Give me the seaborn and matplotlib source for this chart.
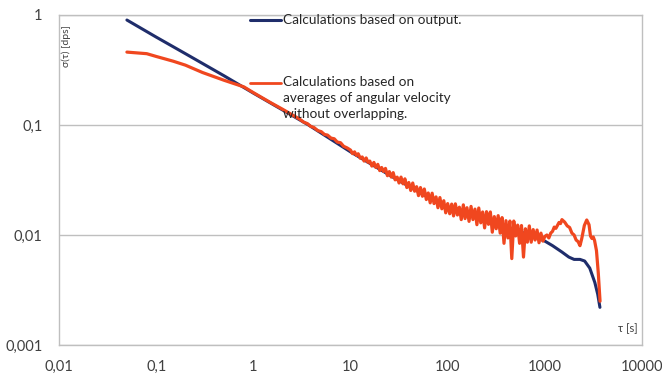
import numpy as np
import pandas as pd
import seaborn as sns
import matplotlib.pyplot as plt

# values (tau in s, sigma in dps)
blue_tau = [0.05, 0.1, 0.2, 0.5, 1, 2, 3.7, 10, 30, 100, 200, 400, 700, 1000,
            1200, 1500, 1766, 2000, 2300, 2570, 2900, 3270, 3500, 3690]
blue_sigma = [0.90, 0.63, 0.445, 0.28, 0.195, 0.137, 0.100, 0.057, 0.032, 0.0175,
              0.0145, 0.0118, 0.0100, 0.0088, 0.0080, 0.0070, 0.0063, 0.0060,
              0.0060, 0.0058, 0.0050, 0.0037, 0.0029, 0.0022]

red_tau = [0.05, 0.08, 0.1, 0.15, 0.2, 0.3, 0.5, 0.8, 1.0, 1.5, 2.0, 2.5,
           3.0, 3.3, 3.6, 3.9, 4.2, 4.6, 5.0, 5.4, 5.8, 6.3, 6.8, 7.3, 7.9, 8.5, 9.2,
           10, 10.5, 11, 11.5, 12, 12.6, 13.2, 13.8, 14.5, 15.1, 15.8, 16.6, 17.4,
           18.2, 19.1, 20, 20.9, 21.9, 22.9, 24, 25.1, 26.3, 27.5, 28.8, 30.2, 31.6,
           33.1, 34.7, 36.3, 38, 39.8, 41.7, 43.7, 45.7, 47.9, 50.1, 52.5, 55, 57.5,
           60.3, 63.1, 66.1, 69.2, 72.4, 75.9, 79.4, 83.2, 87.1, 91.2, 95.5,
           100, 105, 110, 115, 120, 126, 132, 138, 145, 151, 158, 166, 174, 182,
           191, 200, 209, 219, 229, 240, 251, 263, 275, 288, 302, 316, 331, 347,
           363, 380, 398, 417, 437, 457, 479, 501, 525, 550, 575, 603, 631, 661,
           692, 724, 759, 794, 832, 871, 912, 955, 1000,
           1050, 1100, 1150, 1200, 1250, 1300, 1400, 1450, 1500, 1600, 1700, 1800,
           1900, 2000, 2100, 2200, 2300, 2400, 2550, 2700, 2850, 2950, 3050, 3150,
           3250, 3400, 3550, 3650, 3700]
red_sigma = [0.46, 0.445, 0.42, 0.38, 0.35, 0.30, 0.255, 0.222, 0.197, 0.160, 0.139,
             0.124, 0.113, 0.106, 0.103, 0.097, 0.095, 0.089, 0.087, 0.082, 0.081,
             0.076, 0.075, 0.070, 0.069, 0.064, 0.062,
             0.0592, 0.0549, 0.0570, 0.0529, 0.0548, 0.0499, 0.0512, 0.0470, 0.0502,
             0.0458, 0.0470, 0.0423, 0.0457, 0.0411, 0.0439, 0.0385, 0.0411, 0.0378,
             0.0403, 0.0346, 0.0377, 0.0336, 0.0369, 0.0317, 0.0336, 0.0297, 0.0336,
             0.0292, 0.0324, 0.0270, 0.0300, 0.0254, 0.0297, 0.0250, 0.0275, 0.0228,
             0.0270, 0.0225, 0.0262, 0.0210, 0.0241, 0.0196, 0.0240, 0.0193, 0.0222,
             0.0177, 0.0219, 0.0173, 0.0205, 0.0159,
             0.0193, 0.0156, 0.0191, 0.0149, 0.0192, 0.0152, 0.0179, 0.0138, 0.0188,
             0.0141, 0.0177, 0.0133, 0.0182, 0.0138, 0.0172, 0.0124, 0.0176, 0.0129,
             0.0162, 0.0116, 0.0163, 0.0125, 0.0162, 0.0106, 0.0147, 0.0114, 0.0150,
             0.0104, 0.0144, 0.0084, 0.0135, 0.0094, 0.0134, 0.0061, 0.0134, 0.0098,
             0.0123, 0.0084, 0.0122, 0.0063, 0.0114, 0.0086, 0.0121, 0.0086, 0.0112,
             0.0090, 0.0111, 0.0085, 0.0104, 0.0088, 0.0097,
             0.0100, 0.0094, 0.0104, 0.0108, 0.0118, 0.0115, 0.0130, 0.0127, 0.0138,
             0.0131, 0.0121, 0.0117, 0.0104, 0.0100, 0.0090, 0.0087, 0.0080, 0.0093,
             0.0122, 0.0137, 0.0124, 0.0098, 0.0093, 0.0096, 0.0089, 0.0072, 0.0045,
             0.0030, 0.0025]

x_ticks = [0.01, 0.1, 1, 10, 100, 1000, 10000]
x_labels = ["0,01", "0,1", "1", "10", "100", "1000", "10000"]
y_ticks = [0.001, 0.01, 0.1, 1]
y_labels = ["0,001", "0,01", "0,1", "1"]

blue_label = "Calculations based on output."
red_label = "Calculations based on\naverages of angular velocity\nwithout overlapping."

sns.set_style("white")
plt.rcParams["font.family"] = ["Lato", "DejaVu Sans"]

W, H = 662, 377
fig = plt.figure(figsize=(W / 100, H / 100), dpi=100)
ax = fig.add_axes([59 / W, 1 - 345 / H, (642 - 59) / W, (345 - 15) / H])
ax.set_xscale("log")
ax.set_yscale("log")

blue_df = pd.DataFrame({"tau": blue_tau, "sigma": blue_sigma})
red_df = pd.DataFrame({"tau": red_tau, "sigma": red_sigma})
sns.lineplot(data=blue_df, x="tau", y="sigma", ax=ax, color="#1F2D6B",
             linewidth=2.2, sort=False, estimator=None)
sns.lineplot(data=red_df, x="tau", y="sigma", ax=ax, color="#F0471F",
             linewidth=2.3, sort=False, estimator=None)

ax.set_xlim(0.01, 10000)
ax.set_ylim(0.001, 1)
ax.set_xticks(x_ticks)
ax.set_xticklabels(x_labels)
ax.set_yticks(y_ticks)
ax.set_yticklabels(y_labels)
ax.minorticks_off()
ax.tick_params(length=0, labelsize=10.5, labelcolor="#404040")
ax.tick_params(axis="x", pad=11)
ax.tick_params(axis="y", pad=12)
ax.set_xlabel("")
ax.set_ylabel("")
ax.yaxis.grid(True, color="#BFBFBF", linewidth=1)
ax.xaxis.grid(False)
for s in ax.spines.values():
    s.set_color("#BFBFBF")
    s.set_linewidth(1)

# axis titles placed inside the plot area, like the original
fig.text(66 / W, 1 - 46 / H, "σ(τ) [dps]", rotation=90, ha="center",
         va="center", fontsize=7.5, color="#404040")
fig.text(628 / W, 1 - 329 / H, "τ [s]", ha="center", va="center",
         fontsize=8, color="#404040")

# legend drawn by hand (two entries far apart)
fig.add_artist(plt.Line2D([250 / W, 281 / W], [1 - 20 / H, 1 - 20 / H],
                          color="#1F2D6B", linewidth=2.2))
fig.text(283 / W, 1 - 20 / H, blue_label, ha="left", va="center",
         fontsize=9.8, color="#262626")
fig.add_artist(plt.Line2D([250 / W, 281 / W], [1 - 83 / H, 1 - 83 / H],
                          color="#F0471F", linewidth=2.0))
fig.text(283 / W, 1 - 76 / H, red_label, ha="left", va="top",
         fontsize=9.8, color="#262626", linespacing=1.4)

fig.savefig("out.png", dpi=100)
